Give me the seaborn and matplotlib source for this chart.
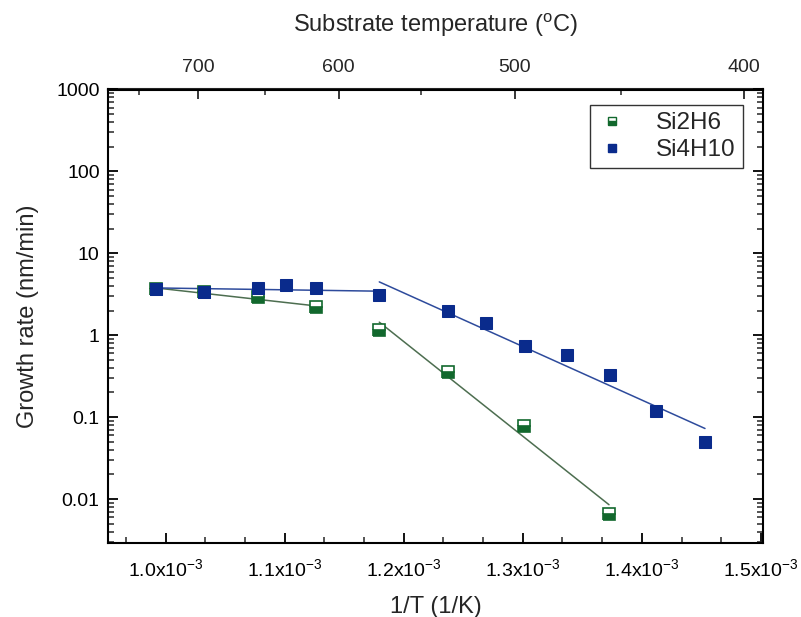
import numpy as np
import pandas as pd
import matplotlib
matplotlib.use("Agg")
import matplotlib.pyplot as plt
import seaborn as sns
from matplotlib.ticker import FixedLocator, FixedFormatter, LogLocator, NullFormatter
from matplotlib.lines import Line2D

# ---- data ----
si2h6_x = [0.992e-3, 1.0326e-3, 1.0774e-3, 1.1264e-3, 1.1795e-3, 1.2372e-3, 1.3013e-3, 1.3724e-3]
si2h6_y = [3.7, 3.4, 2.92, 2.24, 1.16, 0.36, 0.079, 0.0066]

si4h10_x = [0.992e-3, 1.0326e-3, 1.0774e-3, 1.1012e-3, 1.1264e-3, 1.1795e-3, 1.2372e-3,
            1.2691e-3, 1.3019e-3, 1.3369e-3, 1.3732e-3, 1.4118e-3, 1.4530e-3]
si4h10_y = [3.65, 3.38, 3.75, 4.08, 3.82, 3.08, 1.95, 1.43, 0.749, 0.572, 0.326, 0.1205, 0.050]

# fitted line segments (endpoints)
si2h6_fit1_x = [0.992e-3, 1.1264e-3]
si2h6_fit1_y = [3.78, 2.28]
si2h6_fit2_x = [1.1795e-3, 1.3724e-3]
si2h6_fit2_y = [1.445, 0.00853]
si4h10_fit1_x = [0.992e-3, 1.1795e-3]
si4h10_fit1_y = [3.78, 3.45]
si4h10_fit2_x = [1.1795e-3, 1.4530e-3]
si4h10_fit2_y = [4.48, 0.0727]

x_ticks = [1.0e-3, 1.1e-3, 1.2e-3, 1.3e-3, 1.4e-3, 1.5e-3]
x_ticklabels = [r"1.0x10$^{-3}$", r"1.1x10$^{-3}$", r"1.2x10$^{-3}$",
                r"1.3x10$^{-3}$", r"1.4x10$^{-3}$", r"1.5x10$^{-3}$"]
y_ticks = [0.01, 0.1, 1, 10, 100, 1000]
y_ticklabels = ["0.01", "0.1", "1", "10", "100", "1000"]
top_ticks_c = [700, 600, 500, 400]
top_minor_c = [750, 650, 550, 450]

BLUE = "#0a2b8c"
BLUE_LINE = "#2e4b9c"
GREEN = "#12682d"
GREEN_LINE = "#4d6e50"

sns.set_theme(style="ticks")
plt.rcParams["font.family"] = ["Liberation Sans", "DejaVu Sans"]
plt.rcParams["mathtext.default"] = "regular"

fig = plt.figure(figsize=(8.01, 6.17), dpi=100)
ax = fig.add_axes([108/801, 1-542.5/617, (763-108)/801, (542.5-89.5)/617])

# fit lines
for fx, fy, c in [(si2h6_fit1_x, si2h6_fit1_y, GREEN_LINE), (si2h6_fit2_x, si2h6_fit2_y, GREEN_LINE),
                  (si4h10_fit1_x, si4h10_fit1_y, BLUE_LINE), (si4h10_fit2_x, si4h10_fit2_y, BLUE_LINE)]:
    sns.lineplot(x=fx, y=fy, ax=ax, color=c, linewidth=1.1, sort=False, estimator=None, zorder=2)

# markers
df2 = pd.DataFrame({"x": si2h6_x, "y": si2h6_y})
df4 = pd.DataFrame({"x": si4h10_x, "y": si4h10_y})
sns.lineplot(data=df2, x="x", y="y", ax=ax, linestyle="", marker="s", markersize=8,
             fillstyle="bottom", markerfacecolor=GREEN, markerfacecoloralt="white",
             markeredgecolor=GREEN, markeredgewidth=1.2, color=GREEN,
             sort=False, estimator=None, zorder=3)
sns.lineplot(data=df4, x="x", y="y", ax=ax, linestyle="", marker="s", markersize=8,
             markerfacecolor=BLUE, markeredgecolor=BLUE, color=BLUE,
             sort=False, estimator=None, zorder=4)

ax.set_yscale("log")
ax.set_xlim(0.9517e-3, 1.5017e-3)
ax.set_ylim(0.00295, 1000)

ax.xaxis.set_major_locator(FixedLocator(x_ticks))
ax.xaxis.set_major_formatter(FixedFormatter(x_ticklabels))
minor_x = [0.9667e-3] + [t + d for t in x_ticks[:-1] for d in (0.0333e-3, 0.0667e-3)]
ax.xaxis.set_minor_locator(FixedLocator(minor_x))
ax.yaxis.set_major_locator(FixedLocator(y_ticks))
ax.yaxis.set_major_formatter(FixedFormatter(y_ticklabels))
ax.yaxis.set_minor_locator(LogLocator(base=10, subs=np.arange(2, 10), numticks=20))
ax.yaxis.set_minor_formatter(NullFormatter())

for s in ax.spines.values():
    s.set_linewidth(1.5)
    s.set_color("black")
    s.set_visible(True)

ax.tick_params(axis="both", which="major", direction="in", length=7, width=1.3,
               labelsize=14, colors="black")
ax.tick_params(axis="both", which="minor", direction="in", length=4, width=1.1)
ax.tick_params(axis="x", which="both", top=False, bottom=True, pad=11)
ax.tick_params(axis="y", which="both", left=True, right=True, pad=6)

ax.set_xlabel("1/T (1/K)", fontsize=17, labelpad=12)
ax.set_ylabel("Growth rate (nm/min)", fontsize=17, labelpad=12)

# top temperature axis
sec = ax.secondary_xaxis("top", functions=(lambda x: 1.0/np.asarray(x, float) - 273.15,
                                           lambda t: 1.0/(np.asarray(t, float) + 273.15)))
sec.xaxis.set_major_locator(FixedLocator(top_ticks_c))
sec.xaxis.set_major_formatter(FixedFormatter([str(t) for t in top_ticks_c]))
sec.xaxis.set_minor_locator(FixedLocator(top_minor_c))
sec.xaxis.set_minor_formatter(NullFormatter())
sec.tick_params(axis="x", which="major", direction="in", length=7, width=1.3, labelsize=14, pad=10)
sec.tick_params(axis="x", which="minor", direction="in", length=4, width=1.1)
sec.spines["top"].set_linewidth(1.5)
sec.set_xlabel(r"Substrate temperature ($^{o}$C)", fontsize=17, labelpad=19)

# legend
h2 = Line2D([], [], linestyle="", marker="s", markersize=6, fillstyle="bottom",
            markerfacecolor=GREEN, markerfacecoloralt="white", markeredgecolor=GREEN,
            markeredgewidth=1.0)
h4 = Line2D([], [], linestyle="", marker="s", markersize=6, markerfacecolor=BLUE,
            markeredgecolor=BLUE)
leg = ax.legend([h2, h4], ["Si2H6", "Si4H10"], loc="upper right",
                bbox_to_anchor=(0.9695, 0.9658), borderaxespad=0, fontsize=17.5,
                frameon=True, fancybox=False, edgecolor="black", handlelength=1.2,
                handletextpad=1.2, borderpad=0.3, labelspacing=0.2)
leg.get_frame().set_linewidth(1.0)

fig.savefig("out.png", dpi=100)
